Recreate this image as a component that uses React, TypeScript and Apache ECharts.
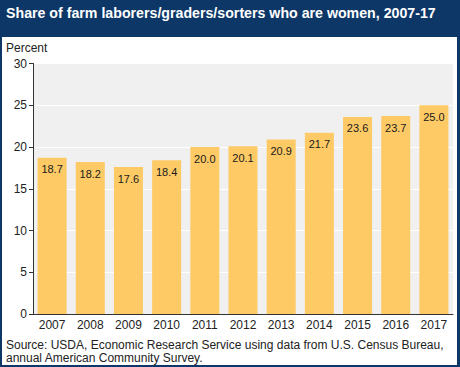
import React, { useEffect, useRef } from "react";
import * as echarts from "echarts";

const years = ["2007", "2008", "2009", "2010", "2011", "2012", "2013", "2014", "2015", "2016", "2017"];
const shares = [18.7, 18.2, 17.6, 18.4, 20.0, 20.1, 20.9, 21.7, 23.6, 23.7, 25.0];
const titleText = "Share of farm laborers/graders/sorters who are women, 2007-17";
const unitText = "Percent";
const sourceLines = [
  "Source: USDA, Economic Research Service using data from U.S. Census Bureau,",
  "annual American Community Survey.",
];

const NAVY = "#0d3767";
const FONT = "Liberation Sans, Arial, Helvetica, sans-serif";

export default function App() {
  const ref = useRef<HTMLDivElement>(null);
  useEffect(() => {
    const chart = echarts.init(ref.current!, null, { renderer: "svg" });
    chart.setOption({
      animation: false,
      backgroundColor: "#ffffff",
      textStyle: { fontFamily: FONT },
      grid: {
        left: 33,
        right: 7,
        top: 63.5,
        bottom: 53,
        show: true,
        backgroundColor: "#f0f0f0",
        borderWidth: 0,
      },
      xAxis: {
        type: "category",
        data: years,
        axisLine: { show: true, lineStyle: { color: "#333333", width: 1 } },
        axisTick: { show: false },
        axisLabel: { color: "#222222", fontSize: 12, fontFamily: FONT, margin: 5 },
      },
      yAxis: {
        type: "value",
        min: 0,
        max: 30,
        interval: 5,
        axisLine: { show: true, lineStyle: { color: "#333333", width: 1 } },
        axisTick: { show: true, length: 4, lineStyle: { color: "#333333" } },
        axisLabel: { color: "#222222", fontSize: 12, fontFamily: FONT, margin: 6 },
        splitLine: { show: true, lineStyle: { color: "#ffffff", width: 1 } },
      },
      series: [
        {
          type: "bar",
          data: shares,
          barCategoryGap: "24%",
          itemStyle: { color: "#fdca66" },
          label: {
            show: true,
            position: "insideTop",
            distance: 6,
            color: "#1a1a1a",
            fontSize: 11,
            fontFamily: FONT,
            formatter: (p: any) => Number(p.value).toFixed(1),
          },
        },
      ],
      graphic: [
        { type: "rect", shape: { x: 0, y: 0, width: 460, height: 37 }, style: { fill: NAVY }, silent: true },
        { type: "rect", shape: { x: 0, y: 0, width: 2, height: 367 }, style: { fill: NAVY }, silent: true },
        { type: "rect", shape: { x: 457, y: 0, width: 3, height: 367 }, style: { fill: NAVY }, silent: true },
        { type: "rect", shape: { x: 0, y: 365, width: 460, height: 2 }, style: { fill: NAVY }, silent: true },
        {
          type: "text",
          x: 6,
          y: 13,
          style: { text: titleText, fill: "#ffffff", font: `bold 14.2px ${FONT}`, textVerticalAlign: "middle" },
          silent: true,
        },
        {
          type: "text",
          x: 6,
          y: 48,
          style: { text: unitText, fill: "#222222", font: `12px ${FONT}`, textVerticalAlign: "middle" },
          silent: true,
        },
        {
          type: "text",
          x: 6,
          y: 345,
          style: { text: sourceLines[0], fill: "#222222", font: `12px ${FONT}`, textVerticalAlign: "middle" },
          silent: true,
        },
        {
          type: "text",
          x: 6,
          y: 358,
          style: { text: sourceLines[1], fill: "#222222", font: `12px ${FONT}`, textVerticalAlign: "middle" },
          silent: true,
        },
      ],
    });
    return () => chart.dispose();
  }, []);
  return <div ref={ref} style={{ position: "fixed", left: 0, top: 0, width: 460, height: 367 }} />;
}
